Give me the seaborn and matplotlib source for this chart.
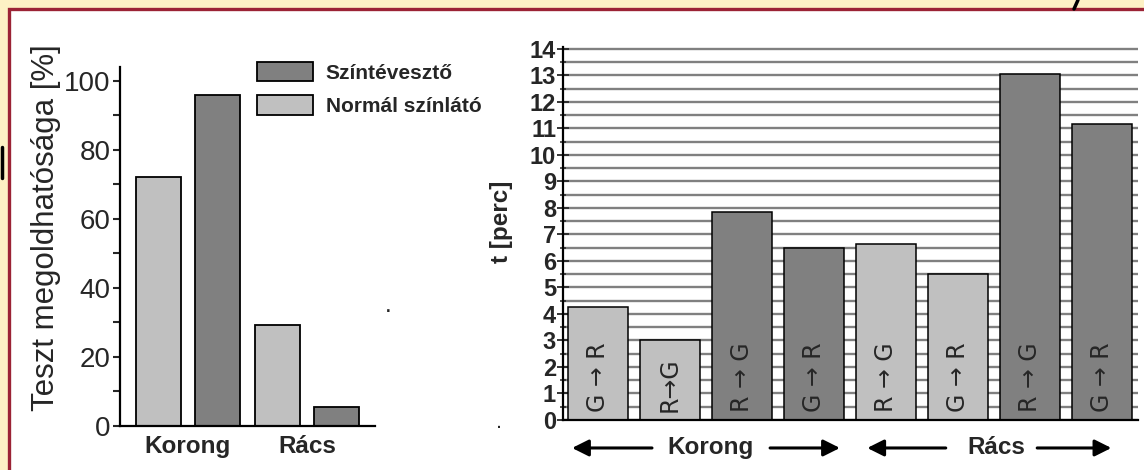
import numpy as np
import pandas as pd
import matplotlib
matplotlib.use("Agg")
import matplotlib.pyplot as plt
import seaborn as sns
from matplotlib.patches import Rectangle
from matplotlib.lines import Line2D

# --- DATA ---
groups = ["Korong", "Rács"]
vision_types = ["Normál színlátó", "Színtévesztő"]
solvable_normal = [72.2, 29.1]
solvable_cvd = [95.8, 5.3]

time_values = [4.28, 3.0, 7.84, 6.48, 6.63, 5.5, 13.04, 11.18]
time_labels = ["G → R", "R→G", "R → G", "G → R", "R → G", "G → R", "R → G", "G → R"]
time_vision = ["Normál színlátó", "Normál színlátó", "Színtévesztő", "Színtévesztő",
               "Normál színlátó", "Normál színlátó", "Színtévesztő", "Színtévesztő"]

LIGHT = "#c0c0c0"
DARK = "#808080"
CREAM = "#fdf1c4"
BORDER = "#9b2335"

sns.set_style("white")
plt.rcParams["font.family"] = ["Liberation Sans", "DejaVu Sans"]

W, H = 1144, 470
fig = plt.figure(figsize=(W / 100, H / 100), dpi=100, facecolor=CREAM)

# white panel with red frame (behind the axes)
fig.patches.append(Rectangle((9 / W, -0.1), 1.2, (H - 9) / H + 0.1, transform=fig.transFigure,
                             facecolor="white", edgecolor=BORDER, lw=2.4, zorder=-10))

# --- left chart: solvability ---
ax1 = fig.add_axes([120 / W, (H - 425.7) / H, 255 / W, (425.7 - 67) / H])
ax1.patch.set_alpha(0)
df_left = pd.DataFrame({
    "group": groups * 2,
    "vision": [vision_types[0]] * 2 + [vision_types[1]] * 2,
    "value": solvable_normal + solvable_cvd,
})
sns.barplot(data=df_left, x="group", y="value", hue="vision", hue_order=vision_types,
            palette=[LIGHT, DARK], width=0.99, gap=0.25, edgecolor="black", linewidth=1.3,
            errorbar=None, ax=ax1)
ax1.set_xlim(-0.571, 1.571)
ax1.set_ylim(0, 104)
ax1.set_yticks(np.arange(0, 101, 20))
ax1.set_yticks(np.arange(10, 100, 20), minor=True)
ax1.tick_params(axis="y", which="both", direction="out", length=5, width=1.5, pad=2,
                labelsize=20, left=True)
ax1.tick_params(axis="x", length=0, pad=7, labelsize=17.5)
for lbl in ax1.get_xticklabels():
    lbl.set_fontweight("bold")
for side in ["top", "right"]:
    ax1.spines[side].set_visible(False)
for side in ["left", "bottom"]:
    ax1.spines[side].set_color("black")
    ax1.spines[side].set_linewidth(1.6)
ax1.set_xlabel("")
ax1.set_ylabel("Teszt megoldhatósága [%]", fontsize=22.5)
ax1.yaxis.set_label_coords(-0.232, 0.551)

handles, labels = ax1.get_legend_handles_labels()
ax1.legend(handles[::-1], labels[::-1], loc="upper left", bbox_to_anchor=(257 / W, (H - 62) / H),
           bbox_transform=fig.transFigure, frameon=False, prop={"weight": "bold", "size": 15},
           handlelength=2.7, handleheight=1.06, handletextpad=0.6, labelspacing=0.6,
           borderpad=0, borderaxespad=0)

# --- right chart: solving time ---
ax2 = fig.add_axes([563 / W, (H - 420) / H, (1138 - 563) / W, (420 - 47) / H])
ax2.patch.set_alpha(0)
df_right = pd.DataFrame({"pos": list(range(len(time_values))), "t": time_values,
                         "vision": time_vision})
sns.barplot(data=df_right, x="pos", y="t", hue="vision", hue_order=vision_types,
            palette=[LIGHT, DARK], dodge=False, width=0.833, edgecolor="black",
            linewidth=1.1, errorbar=None, legend=False, ax=ax2)
ax2.set_xlim(-0.486, 7.5)
ax2.set_ylim(0, 14.07)
ax2.set_yticks(np.arange(0, 15, 1))
ax2.set_yticks(np.arange(0.5, 14, 1), minor=True)
ax2.grid(axis="y", which="both", color=DARK, lw=1.7)
ax2.set_axisbelow(True)
ax2.tick_params(axis="y", which="major", direction="inout", length=8, width=1.3, pad=1,
                labelsize=17, left=True)
ax2.tick_params(axis="y", which="minor", direction="inout", length=5, width=1.1, left=True)
for lbl in ax2.get_yticklabels():
    lbl.set_fontweight("bold")
ax2.set_xticks([])
for side in ["top", "right"]:
    ax2.spines[side].set_visible(False)
for side in ["left", "bottom"]:
    ax2.spines[side].set_color("black")
    ax2.spines[side].set_linewidth(1.6)
ax2.set_xlabel("")
ax2.set_ylabel("t [perc]", fontsize=17.5, fontweight="bold")
ax2.yaxis.set_label_coords(-0.087, 0.531)

# direction labels inside bars
for i, txt in enumerate(time_labels):
    ax2.text(i, 0.3, txt, rotation=90, ha="center", va="bottom", fontsize=17, zorder=5,
             family=["DejaVu Sans"])

# arrows under the x axis
arrow_kw = dict(arrowstyle="-|>,head_length=1.0,head_width=0.5", color="black", lw=2.2,
                shrinkA=0, shrinkB=0)
yb = -0.075
spans = [("Korong", -0.36, 0.75, 1.56, 2.39, 3.36), ("Rács", 3.74, 4.83, 5.53, 6.10, 7.13)]
for name, tip_l, end_l, mid, start_r, tip_r in spans:
    ax2.annotate("", xy=(tip_l, yb), xytext=(end_l, yb), xycoords=("data", "axes fraction"),
                 textcoords=("data", "axes fraction"), arrowprops=arrow_kw, annotation_clip=False)
    ax2.annotate("", xy=(tip_r, yb), xytext=(start_r, yb), xycoords=("data", "axes fraction"),
                 textcoords=("data", "axes fraction"), arrowprops=arrow_kw, annotation_clip=False)
    ax2.text(mid, yb, name, transform=ax2.get_xaxis_transform(), ha="center", va="center",
             fontsize=17.5, fontweight="bold")

# small stray fragments of the original slide
fig.add_artist(Line2D([1.5 / W, 1.5 / W], [(H - 147) / H, (H - 178) / H], color="black", lw=2.5))
fig.add_artist(Line2D([1074 / W, 1078 / W], [(H - 9) / H, 1.0], color="black", lw=2.5))
fig.text(388 / W, (H - 312) / H, ".", fontsize=12, fontweight="bold", ha="center")
fig.text(499 / W, (H - 428) / H, ".", fontsize=10, fontweight="bold", ha="center")

fig.savefig("out.png", dpi=100, facecolor=CREAM)
